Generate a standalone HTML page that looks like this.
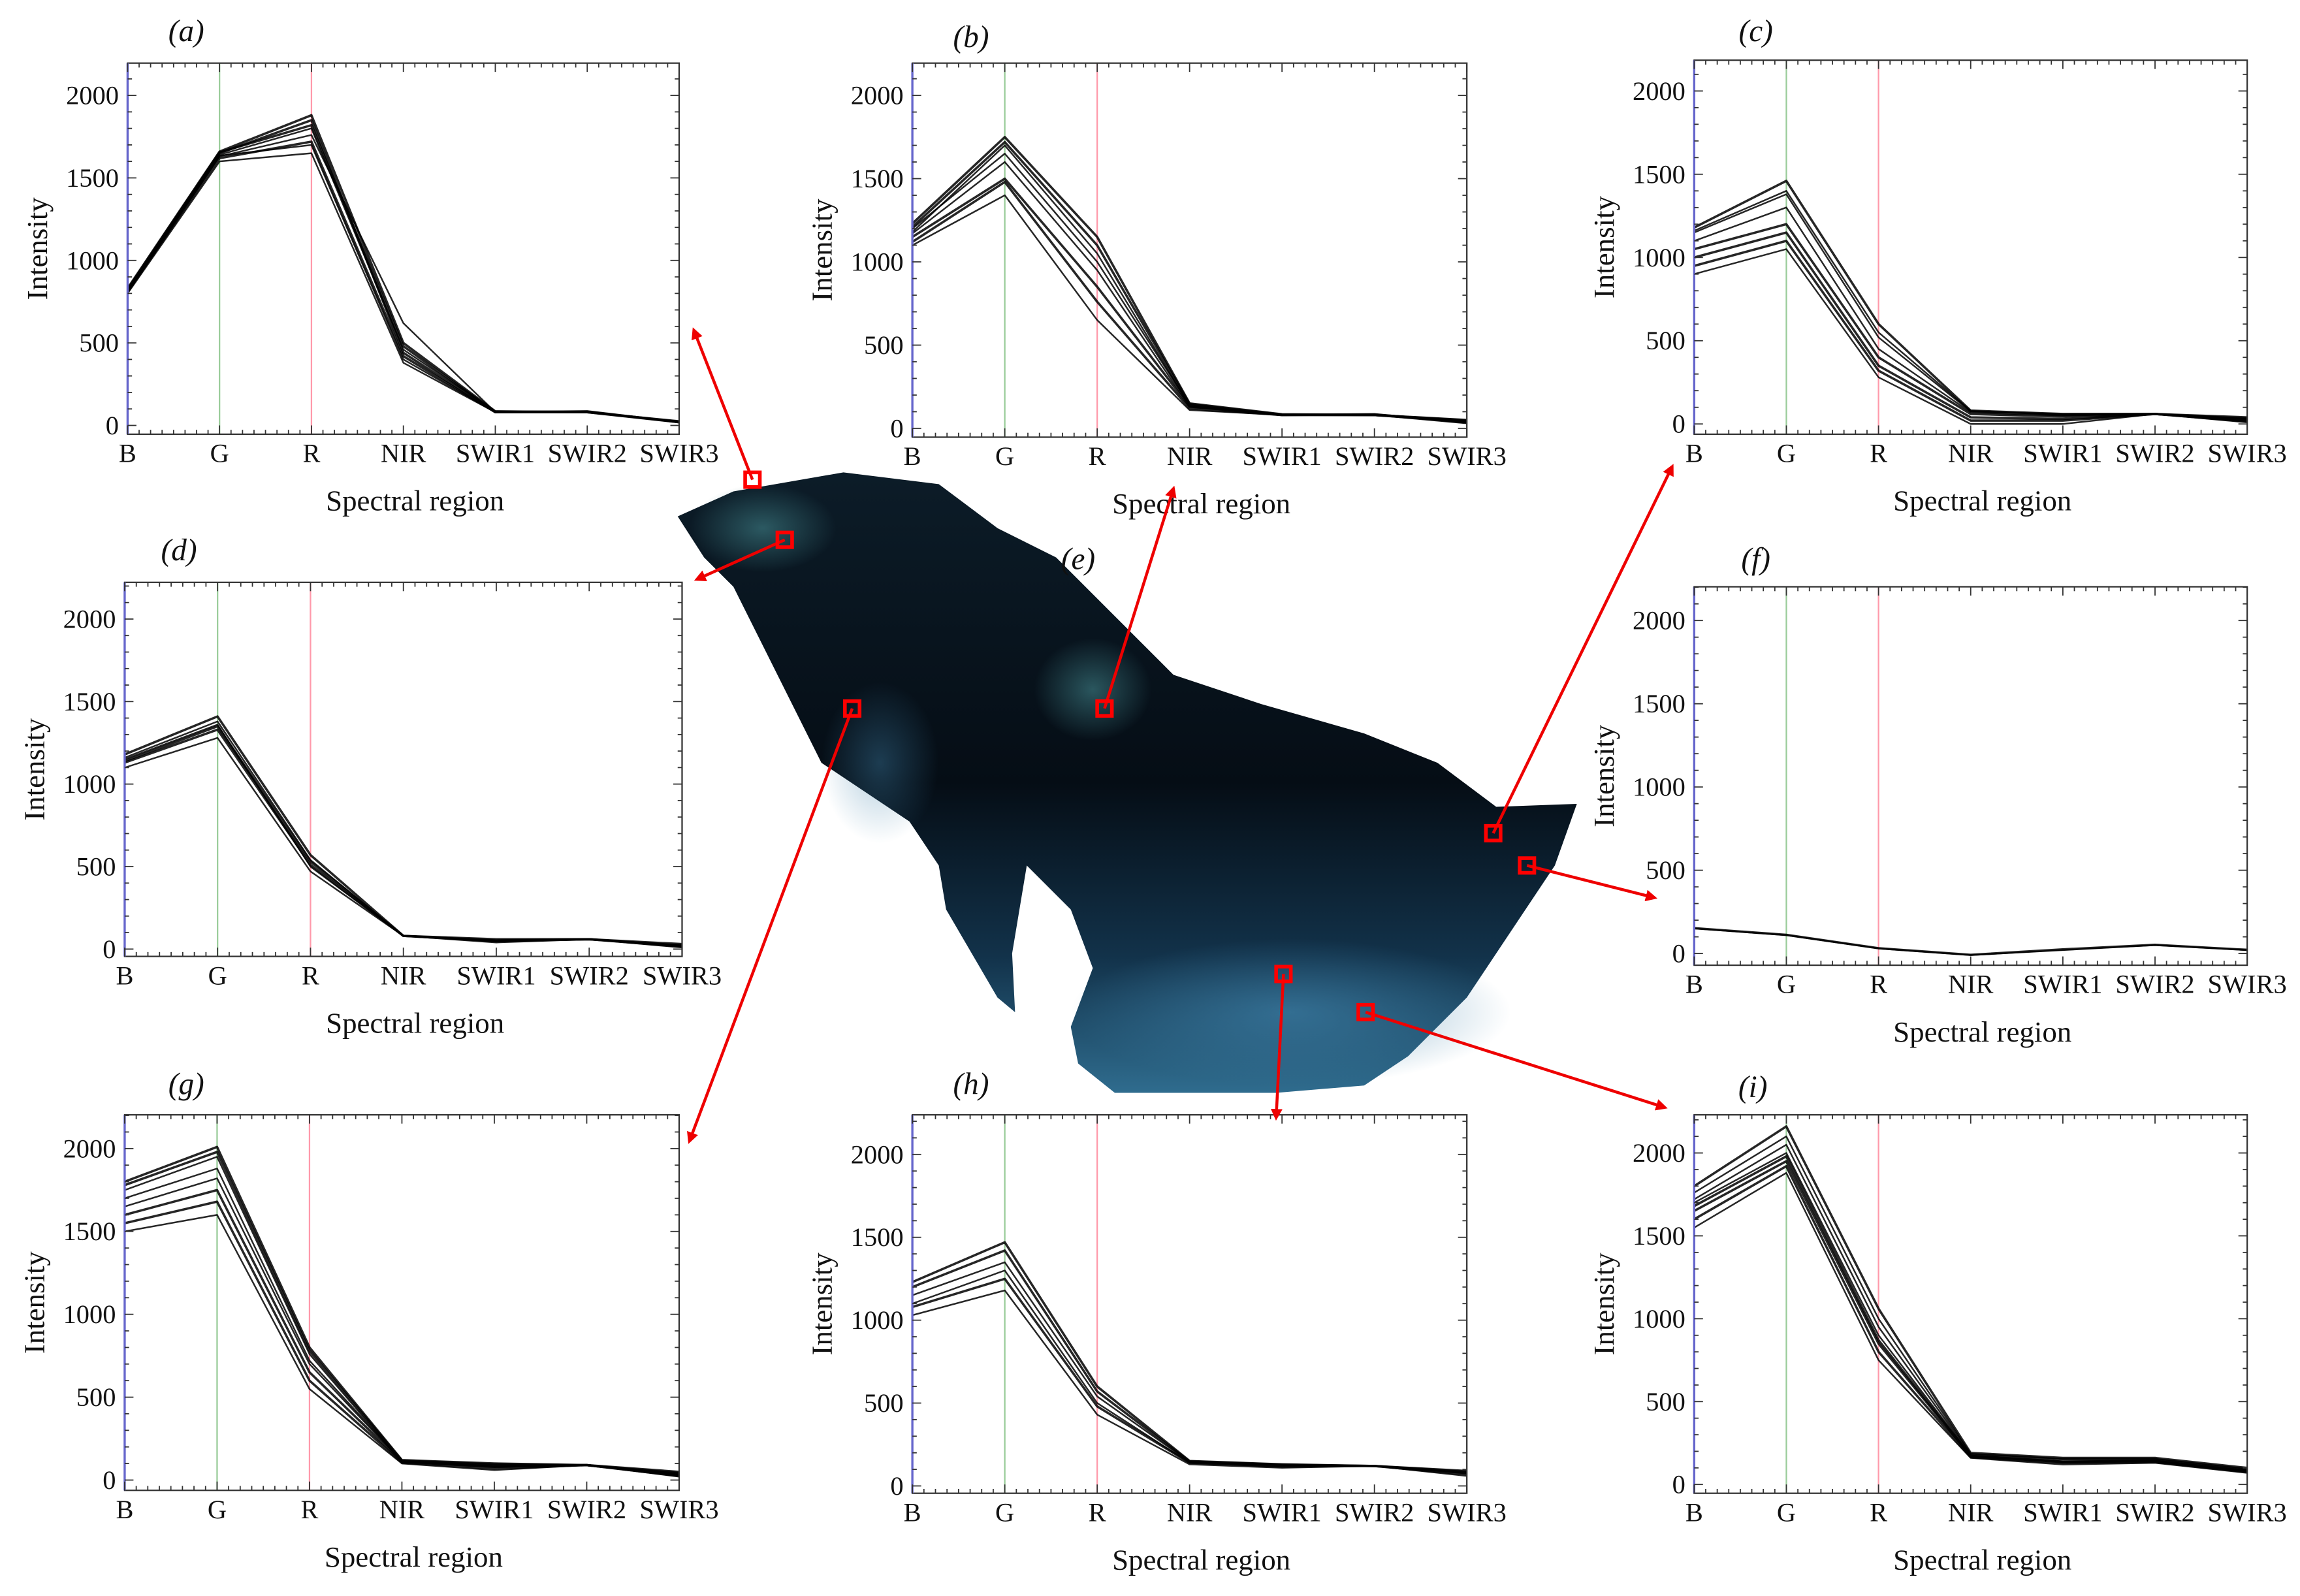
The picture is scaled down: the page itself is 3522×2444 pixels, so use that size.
<!DOCTYPE html>
<html><head><meta charset="utf-8">
<style>
html,body{margin:0;padding:0;background:#fff;}
svg{display:block;}
text{font-family:"Liberation Serif",serif;fill:#111;}
</style></head>
<body>
<svg id="fig" width="3522" height="2444" viewBox="0 0 1568 1088" xmlns="http://www.w3.org/2000/svg">
<defs>
<linearGradient id="sea" x1="0" y1="0" x2="0" y2="1">
<stop offset="0" stop-color="#0c1c28"/>
<stop offset="0.5" stop-color="#050d15"/>
<stop offset="0.78" stop-color="#12324a"/>
<stop offset="1" stop-color="#2f6c8e"/>
</linearGradient>
<radialGradient id="plume" cx="0.5" cy="0.5" r="0.5">
<stop offset="0" stop-color="#3f7f86" stop-opacity="0.9"/>
<stop offset="1" stop-color="#3f7f86" stop-opacity="0"/>
</radialGradient>
<radialGradient id="south" cx="0.5" cy="0.5" r="0.5">
<stop offset="0" stop-color="#3f82aa" stop-opacity="0.8"/>
<stop offset="1" stop-color="#3f82aa" stop-opacity="0"/>
</radialGradient>
<marker id="ah" markerWidth="8" markerHeight="8" refX="6" refY="4" orient="auto" markerUnits="userSpaceOnUse">
<path d="M0,0 L8,4 L0,8 z" fill="#e00"/>
</marker>
</defs>
<g id="map">
<polygon fill="url(#sea)" points="462,352 500,335 575,322 640,330 680,360 720,380 760,420 800,460 860,480 930,500 980,520 1020,550 1075,548 1060,590 1040,620 1000,680 960,720 930,740 870,745 800,745 760,745 735,725 730,700 745,660 730,620 700,590 690,650 692,690 680,680 645,620 640,590 620,560 560,520 540,480 520,440 500,400 480,380"/>
<ellipse cx="745" cy="470" rx="40" ry="35" fill="url(#plume)" opacity="0.7"/>
<ellipse cx="520" cy="360" rx="50" ry="30" fill="url(#plume)" opacity="0.7"/>
<ellipse cx="880" cy="690" rx="150" ry="50" fill="url(#south)" opacity="0.8"/>
<ellipse cx="600" cy="520" rx="40" ry="55" fill="url(#south)" opacity="0.5"/>
</g>
<g id="charts"></g>
<g id="arrows"></g>
</svg>
<script>
var bands=["B","G","R","NIR","SWIR1","SWIR2","SWIR3"];
var yTicks=[0,500,1000,1500,2000];
var sA=[[800,1600,1650,380,80,80,20],[810,1620,1720,420,80,80,20],[820,1640,1800,460,85,85,20],[830,1660,1880,500,85,80,25],[805,1630,1760,620,80,80,20],[815,1650,1850,440,80,85,20],[812,1635,1700,400,80,80,20],[825,1655,1820,480,82,82,22]];
var sB=[[1100,1400,650,110,80,80,30],[1150,1500,850,130,80,80,40],[1200,1650,1000,140,80,85,45],[1230,1750,1150,150,85,80,50],[1180,1700,1050,135,80,80,40],[1120,1480,760,120,80,85,35],[1170,1600,950,130,80,82,42],[1210,1720,1100,145,82,80,48]];
var sC=[[900,1050,280,0,0,60,10],[1000,1150,350,40,30,60,20],[1100,1300,450,70,50,60,30],[1180,1460,600,80,60,60,40],[1150,1380,520,75,60,60,30],[950,1100,320,20,20,60,15],[1160,1400,550,78,55,60,35],[1050,1200,400,60,45,60,25]];
var sD=[[1100,1280,470,80,40,60,10],[1130,1330,510,80,50,60,20],[1160,1380,540,80,55,60,25],[1180,1410,570,80,60,60,30],[1150,1360,500,80,45,60,20],[1140,1350,530,80,50,60,15]];
var sF=[[150,110,30,-10,20,50,20],[152,112,32,-8,25,52,22]];
var sG=[[1500,1600,550,100,60,90,20],[1600,1750,650,110,80,90,30],[1700,1880,720,115,90,90,40],[1800,2010,800,120,100,90,50],[1750,1950,760,110,80,90,35],[1550,1680,600,105,70,90,25],[1650,1820,700,112,85,90,45],[1780,1980,780,118,95,90,30]];
var sH=[[1030,1180,430,130,110,120,60],[1080,1250,480,140,120,120,70],[1150,1350,540,145,125,120,80],[1230,1470,600,150,130,120,90],[1100,1300,500,140,115,120,75],[1200,1420,570,148,128,120,85]];
var sI=[[1550,1880,750,160,120,130,70],[1650,1950,850,170,135,140,80],[1720,2050,950,180,150,150,90],[1800,2160,1060,190,160,160,100],[1700,2000,900,175,140,145,85],[1600,1920,800,165,130,135,75],[1760,2100,1000,185,155,155,95],[1680,1980,870,172,138,142,82]];
var panels=[
{id:"a",lab:"(a)",lx:127,ly:22,x0:87,x1:463,top:43,bot:296,y0:290,y2k:65,d:sA},
{id:"b",lab:"(b)",lx:662,ly:26,x0:622,x1:1000,top:43,bot:298,y0:292,y2k:65,d:sB},
{id:"c",lab:"(c)",lx:1197,ly:22,x0:1155,x1:1532,top:41,bot:296,y0:289,y2k:62,d:sC},
{id:"d",lab:"(d)",lx:122,ly:376,x0:85,x1:465,top:397,bot:652,y0:647,y2k:422,d:sD},
{id:"f",lab:"(f)",lx:1197,ly:382,x0:1155,x1:1532,top:400,bot:658,y0:650,y2k:423,d:sF},
{id:"g",lab:"(g)",lx:127,ly:740,x0:85,x1:463,top:760,bot:1016,y0:1009,y2k:783,d:sG},
{id:"h",lab:"(h)",lx:662,ly:740,x0:622,x1:1000,top:760,bot:1018,y0:1013,y2k:787,d:sH},
{id:"i",lab:"(i)",lx:1195,ly:742,x0:1155,x1:1532,top:760,bot:1018,y0:1012,y2k:786,d:sI}];
var NS="http://www.w3.org/2000/svg";
function mk(tag,attrs,parent){var e=document.createElementNS(NS,tag);for(var k in attrs)e.setAttribute(k,attrs[k]);parent.appendChild(e);return e;}
var root=document.getElementById("charts");
panels.forEach(function(p){
  var g=mk("g",{},root);
  
  
  function xs(i){return p.x0+(p.x1-p.x0)*i/(bands.length-1);}
  function ys(v){return p.y0+(p.y2k-p.y0)*v/2000;}
  var gl=mk("line",{x1:xs(1),x2:xs(1),y1:p.top,y2:p.bot,stroke:"#9c9","stroke-width":1},g);
  
  
  var rl=mk("line",{x1:xs(2),x2:xs(2),y1:p.top,y2:p.bot,stroke:"#f9a","stroke-width":1},g);
  
  
  p.d.forEach(function(s,si){
    var pts=s.map(function(v,i){return xs(i).toFixed(1)+","+ys(v).toFixed(1);}).join(" ");
    var pl=mk("polyline",{points:pts,fill:"none",stroke:"#000","stroke-width":si%2?1.6:1.1,"stroke-opacity":0.85,"stroke-linejoin":"round"},g);
    
    
  });
  var fr=mk("rect",{x:p.x0,y:p.top,width:p.x1-p.x0,height:p.bot-p.top,fill:"none",stroke:"#333","stroke-width":1},g);
  
  
  var ls=mk("line",{x1:p.x0,x2:p.x0,y1:p.top,y2:p.bot,stroke:"#66c","stroke-width":1.5},g);
  
  
  for(var v=0;v<=2200;v+=100){var y=ys(v);if(y<p.top||y>p.bot)continue;var L=(v%500==0)?6:3;
    mk("line",{x1:p.x0,x2:p.x0+L,y1:y,y2:y,stroke:"#333","stroke-width":0.8},g);
    mk("line",{x1:p.x1,x2:p.x1-L,y1:y,y2:y,stroke:"#333","stroke-width":0.8},g);}
  var n=bands.length-1;
  for(var k=0;k<=n*8;k++){var x=p.x0+(p.x1-p.x0)*k/(n*8);var L2=(k%8==0)?6:3;
    mk("line",{x1:x,x2:x,y1:p.bot,y2:p.bot-L2,stroke:"#333","stroke-width":0.8},g);
    mk("line",{x1:x,x2:x,y1:p.top,y2:p.top+L2,stroke:"#333","stroke-width":0.8},g);}
  yTicks.forEach(function(v){
    var t=mk("text",{x:p.x0-6,y:ys(v)+6,"text-anchor":"end","font-size":18},g);t.textContent=v;
    
    
  });
  bands.forEach(function(b,i){
    var t=mk("text",{x:xs(i),y:p.bot+19,"text-anchor":"middle","font-size":18},g);t.textContent=b;
    
    
  });
  var yl=mk("text",{x:0,y:0,"text-anchor":"middle","font-size":20,transform:"translate("+(p.x0-55)+","+((p.top+p.bot)/2)+") rotate(-90)"},g);yl.textContent="Intensity";
  
  
  var xl=mk("text",{x:(p.x0+p.x1)/2+8,y:p.bot+52,"text-anchor":"middle","font-size":20},g);xl.textContent="Spectral region";
  
  
  var pt=mk("text",{x:p.lx,y:p.ly+6,"text-anchor":"middle","font-size":21,"font-style":"italic"},g);pt.textContent=p.lab;
  
  
});
var svg=document.getElementById("fig");
var et=mk("text",{x:735,y:388,"text-anchor":"middle","font-size":21,"font-style":"italic",fill:"#111"},svg);et.textContent="(e)";


var arrows=[[513,327,473,225],[535,368,475,395],[753,483,800,333],[1018,568,1140,318],[1041,590,1128,612],[581,483,470,778],[875,664,870,762],[931,690,1135,755]];
var ag=document.getElementById("arrows");
arrows.forEach(function(a){
  var l=mk("line",{x1:a[0],y1:a[1],x2:a[2],y2:a[3],stroke:"#e00","stroke-width":2,"marker-end":"url(#ah)"},ag);
  
  
  var r=mk("rect",{x:a[0]-5,y:a[1]-5,width:10,height:10,fill:"none",stroke:"#f00","stroke-width":2.5},ag);
  
  
});
</script>
</body></html>
